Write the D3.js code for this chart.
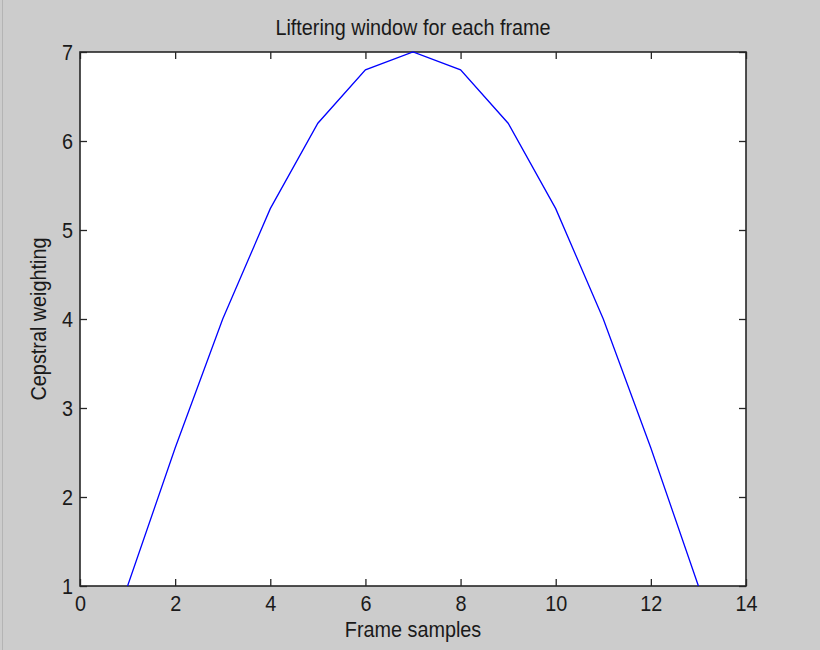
<!DOCTYPE html>
<html>
<head>
<meta charset="utf-8">
<script src="https://cdn.jsdelivr.net/npm/d3@7"></script>
<style>
  html, body { margin: 0; padding: 0; background: #cccccc; }
  svg { display: block; }
  text { font-family: "Liberation Sans", Arial, Helvetica, sans-serif; fill: #1a1a1a; }
</style>
</head>
<body>
<svg id="chart" width="820" height="650"></svg>
<script>
// Cepstral lifter weights, one per frame sample
const frameSamples = [1, 2, 3, 4, 5, 6, 7, 8, 9, 10, 11, 12, 13];
const weights = [1, 2.55, 4, 5.24, 6.2, 6.8, 7, 6.8, 6.2, 5.24, 4, 2.55, 1];
const xTicks = [0, 2, 4, 6, 8, 10, 12, 14];
const yTicks = [1, 2, 3, 4, 5, 6, 7];

const svg = d3.select("#chart");
const W = 820, H = 650;
const box = { left: 80, right: 746, top: 52, bottom: 586 };

svg.append("rect").attr("width", W).attr("height", H).attr("fill", "#cccccc");
svg.append("line").attr("x1", 2.5).attr("x2", 2.5).attr("y1", 0).attr("y2", H)
  .attr("stroke", "#b4b4b4").attr("stroke-width", 1);

const x = d3.scaleLinear().domain([0, 14]).range([box.left, box.right]);
const y = d3.scaleLinear().domain([1, 7]).range([box.bottom, box.top]);

// plot area
svg.append("rect")
  .attr("x", box.left).attr("y", box.top)
  .attr("width", box.right - box.left).attr("height", box.bottom - box.top)
  .attr("fill", "#ffffff");

const tickLen = 7;
const fontSize = 22;
const condense = 0.9;

function styleAxis(g) {
  g.select(".domain").remove();
  g.selectAll(".tick line").attr("stroke", "#262626").attr("stroke-width", 1.3);
  g.selectAll(".tick text").attr("font-size", fontSize).attr("fill", "#1a1a1a");
}

// bottom axis: inward ticks with labels below
svg.append("g")
  .attr("transform", `translate(0,${box.bottom})`)
  .call(d3.axisBottom(x).tickValues(xTicks).tickFormat(d3.format("d"))
    .tickSizeInner(-tickLen).tickSizeOuter(0).tickPadding(9))
  .call(styleAxis);

// top axis: ticks only
svg.append("g")
  .attr("transform", `translate(0,${box.top})`)
  .call(d3.axisTop(x).tickValues(xTicks).tickFormat("")
    .tickSizeInner(-tickLen).tickSizeOuter(0))
  .call(styleAxis);

// left axis: inward ticks with labels
svg.append("g")
  .attr("transform", `translate(${box.left},0)`)
  .call(d3.axisLeft(y).tickValues(yTicks).tickFormat(d3.format("d"))
    .tickSizeInner(-tickLen).tickSizeOuter(0).tickPadding(7))
  .call(styleAxis);

// right axis: ticks only
svg.append("g")
  .attr("transform", `translate(${box.right},0)`)
  .call(d3.axisRight(y).tickValues(yTicks).tickFormat("")
    .tickSizeInner(-tickLen).tickSizeOuter(0))
  .call(styleAxis);

// frame around plot area
svg.append("rect")
  .attr("x", box.left).attr("y", box.top)
  .attr("width", box.right - box.left).attr("height", box.bottom - box.top)
  .attr("fill", "none").attr("stroke", "#262626").attr("stroke-width", 1.6);

// lifter curve
const line = d3.line().x((d, i) => x(frameSamples[i])).y(d => y(d));
svg.append("path")
  .datum(weights)
  .attr("d", line)
  .attr("fill", "none")
  .attr("stroke", "#0000ff")
  .attr("stroke-width", 1.3);

// titles
svg.append("text")
  .attr("x", (box.left + box.right) / 2).attr("y", 35)
  .attr("text-anchor", "middle").attr("font-size", fontSize)
  .text("Liftering window for each frame");

svg.append("text")
  .attr("x", (box.left + box.right) / 2).attr("y", 637)
  .attr("text-anchor", "middle").attr("font-size", fontSize)
  .text("Frame samples");

svg.append("text")
  .attr("transform", `translate(46,${(box.top + box.bottom) / 2}) rotate(-90)`)
  .attr("text-anchor", "middle").attr("font-size", fontSize)
  .text("Cepstral weighting");

// narrow the glyphs horizontally for a tall, condensed look
svg.selectAll("text").each(function () {
  const len = this.getComputedTextLength();
  if (len > 0) {
    d3.select(this)
      .attr("textLength", len * condense)
      .attr("lengthAdjust", "spacingAndGlyphs");
  }
});
</script>
</body>
</html>
